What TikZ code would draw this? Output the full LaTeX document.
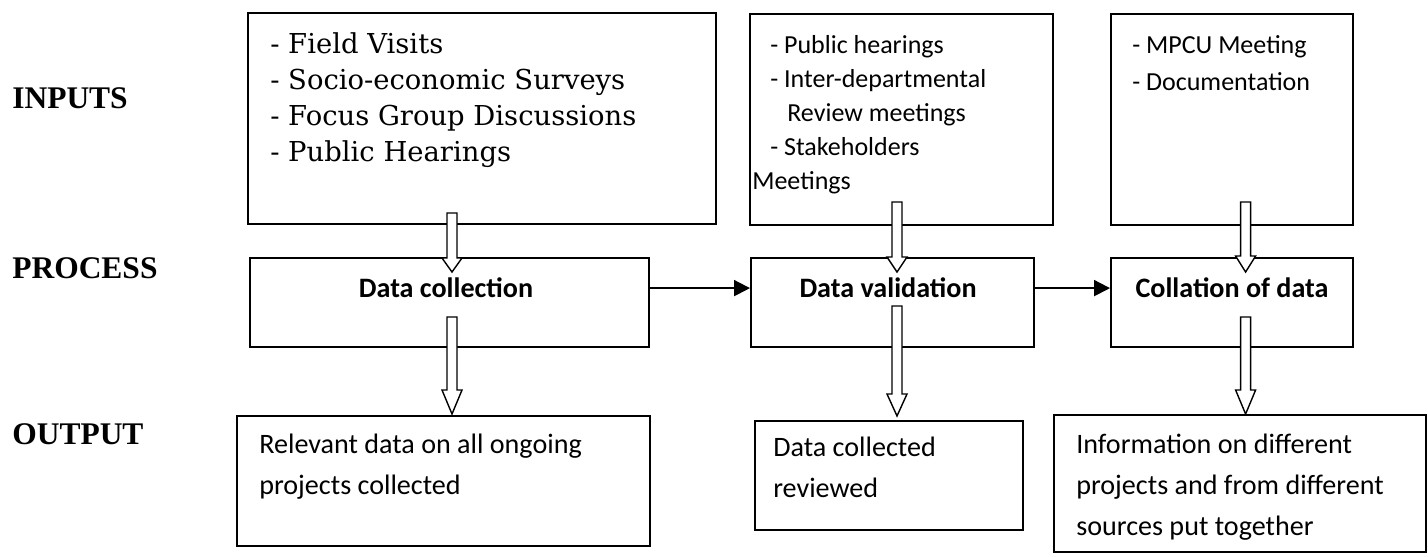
\documentclass[tikz,border=0pt]{standalone}
\usepackage{fontspec}
\setmainfont{Liberation Serif}
\newfontfamily\bodyfont{Carlito}
\newfontfamily\listfont{DejaVu Serif}
\usetikzlibrary{arrows.meta,calc}

% hollow block arrow between two coordinates, optional head length in cm
\newcommand{\blockarrow}[3][0.4]{%
  \draw[hollow] let \p1=(#2), \p2=(#3) in
    (\x1-0.125cm,\y1) -- (\x1+0.125cm,\y1) -- (\x1+0.125cm,\y2+#1cm)
    -- (\x1+0.25cm,\y2+#1cm) -- (\x1,\y2) -- (\x1-0.25cm,\y2+#1cm)
    -- (\x1-0.125cm,\y2+#1cm) -- cycle;}

\begin{document}
\begin{tikzpicture}
    % Styles
    \tikzstyle{box} = [rectangle, draw=black, line width=1.4pt, inner sep=0pt]
    \tikzstyle{stage} = [font=\bfseries\fontsize{22.4}{26}\selectfont, anchor=base west, inner sep=0pt]
    \tikzstyle{seriflist} = [font=\listfont\fontsize{19.5}{25.6}\selectfont, align=left, anchor=north west, inner sep=0pt]
    \tikzstyle{sanslist} = [font=\bodyfont\fontsize{18.5}{24.2}\selectfont, align=left, anchor=north west, inner sep=0pt]
    \tikzstyle{proctext} = [font=\bodyfont\bfseries\fontsize{20}{24}\selectfont, anchor=base, inner sep=0pt]
    \tikzstyle{outtext} = [font=\bodyfont\fontsize{20}{29.2}\selectfont, align=left, anchor=north west, inner sep=0pt]
    \tikzstyle{hollow} = [draw=black, fill=white, line width=1pt, line join=miter]
    \tikzstyle{flow} = [-{Triangle[length=0.4cm, width=0.4cm]}, line width=1.4pt]

    \useasboundingbox (0,0) rectangle (35.7,13.9);

    % Row labels
    \node[stage] (inputs) at (0.3, 11.2) {INPUTS};
    \node[stage] (process) at (0.3, 6.95) {PROCESS};
    \node[stage] (output) at (0.3, 2.8) {OUTPUT};

    % Inputs
    \node[box, minimum width=11.7cm, minimum height=5.275cm] (fieldIn) at (12.05, 10.9375) {};
    \node[box, minimum width=7.575cm, minimum height=5.275cm] (reviewIn) at (22.5375, 10.9125) {};
    \node[box, minimum width=6.05cm, minimum height=5.275cm] (mpcuIn) at (30.8, 10.9125) {};

    \node[seriflist] (fieldTxt) at (6.75, 13.1)
        {- Field Visits\\- Socio-economic Surveys\\- Focus Group Discussions\\- Public Hearings};
    \node[sanslist] (reviewTxt) at (18.8, 13.025)
        {\hspace*{0.45cm}- Public hearings\\\hspace*{0.45cm}- Inter-departmental\\\hspace*{0.875cm}Review meetings\\\hspace*{0.45cm}- Stakeholders\\Meetings};
    \node[sanslist, font=\bodyfont\fontsize{18.5}{26.3}\selectfont] (mpcuTxt) at (28.3, 13.025)
        {- MPCU Meeting\\- Documentation};

    % Process
    \node[box, minimum width=9.975cm, minimum height=2.225cm] (collect) at (11.2375, 6.3375) {};
    \node[box, minimum width=7.075cm, minimum height=2.225cm] (validate) at (22.3125, 6.3375) {};
    \node[box, minimum width=6.05cm, minimum height=2.225cm] (collate) at (30.8, 6.3375) {};

    \node[proctext] (collectTxt) at (11.15, 6.475) {Data collection};
    \node[proctext] (validateTxt) at (22.2, 6.475) {Data validation};
    \node[proctext] (collateTxt) at (30.8, 6.475) {Collation of data};

    % Output
    \node[box, minimum width=10.325cm, minimum height=3.25cm] (collected) at (11.0875, 1.875) {};
    \node[box, minimum width=6.7cm, minimum height=2.725cm] (reviewed) at (22.225, 2.0125) {};
    \node[box, minimum width=9.3cm, minimum height=3.425cm] (together) at (31.0, 1.8125) {};

    \node[outtext] (collectedTxt) at (6.475, 3.05) {Relevant data on all ongoing\\projects collected};
    \node[outtext] (reviewedTxt) at (19.325, 2.975) {Data collected\\reviewed};
    \node[outtext] (togetherTxt) at (26.9, 3.05) {Information on different\\projects and from different\\sources put together};

    % Arrows between process steps
    \draw[flow] ([yshift=0.36cm]collect.east) -- ([yshift=0.36cm]validate.west);
    \draw[flow] ([yshift=0.36cm]validate.east) -- ([yshift=0.36cm]collate.west);

    % Block arrows
    \coordinate (colA) at (11.3, 0);
    \coordinate (colB) at (22.425, 0);
    \coordinate (colC) at (31.14, 0);

    \coordinate (a1) at ($(colA |- fieldIn.south)+(0,0.3)$);
    \coordinate (b1) at ($(colA |- collect.north)+(0,-0.375)$);
    \coordinate (a2) at ($(colA |- collect.south)+(0,0.775)$);
    \coordinate (b2) at ($(colA |- collected.north)+(0,0.025)$);
    \coordinate (a3) at ($(colB |- reviewIn.south)+(0,0.6)$);
    \coordinate (b3) at ($(colB |- validate.north)+(0,-0.375)$);
    \coordinate (a4) at ($(colB |- validate.south)+(0,1.05)$);
    \coordinate (b4) at ($(colB |- reviewed.north)+(0,0.1)$);
    \coordinate (a5) at ($(colC |- mpcuIn.south)+(0,0.6)$);
    \coordinate (b5) at ($(colC |- collate.north)+(0,-0.375)$);
    \coordinate (a6) at ($(colC |- collate.south)+(0,0.775)$);
    \coordinate (b6) at ($(colC |- together.north)$);

    \blockarrow[0.35]{a1}{b1}
    \blockarrow[0.6]{a2}{b2}
    \blockarrow[0.375]{a3}{b3}
    \blockarrow[0.55]{a4}{b4}
    \blockarrow[0.4]{a5}{b5}
    \blockarrow[0.6]{a6}{b6}
\end{tikzpicture}
\end{document}
